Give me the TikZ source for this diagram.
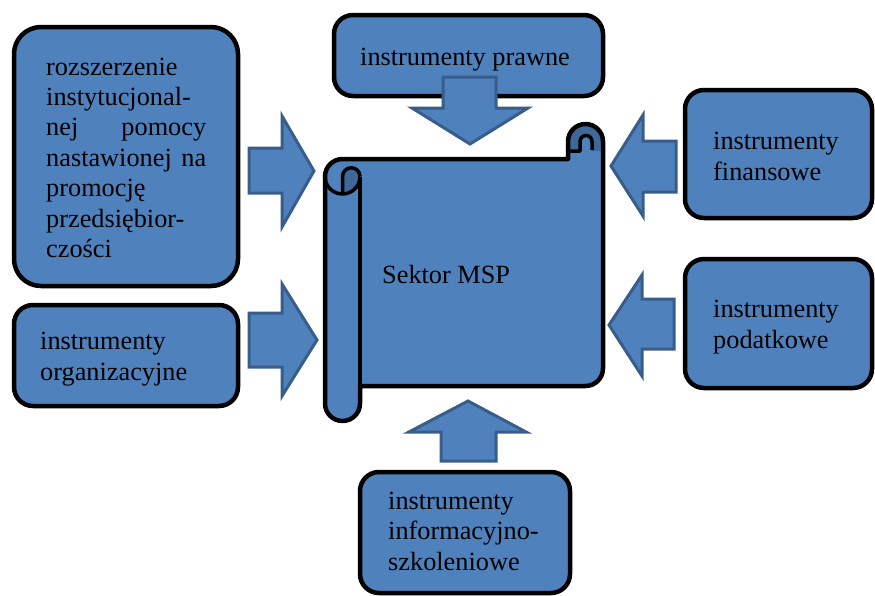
\documentclass[tikz,border=0pt]{standalone}
\usepackage{fontspec}
\setmainfont{Liberation Serif}
\definecolor{fillblue}{HTML}{4F81BD}
\definecolor{arrowblue}{HTML}{385D8A}
\definecolor{curlblue}{HTML}{3F6797}
\hyphenpenalty=10000
\begin{document}
\begin{tikzpicture}[x=1pt,y=-1pt,
  box/.style={draw=black, line width=4.5pt, fill=fillblue, rounded corners=19pt, inner sep=0pt},
  txt/.style={inner sep=0pt, anchor=base west, align=left, font=\fontsize{26.3}{30.4}\selectfont},
  blockarrow/.style={fill=fillblue, draw=arrowblue, line width=3pt, line join=miter},
  scrollline/.style={draw=black, line width=4.5pt, line join=round},
  curlline/.style={draw=black, line width=3.5pt, line join=round}]
\useasboundingbox (0,0) rectangle (875,595);

% boxes
\node[box, rounded corners=27pt, minimum width=224pt, minimum height=259pt] (inst) at (126,156.5) {};
\node[box, minimum width=224pt, minimum height=101pt] (org) at (126,355.5) {};
\node[box, minimum width=269pt, minimum height=81pt] (legal) at (468.5,55.5) {};
\node[box, minimum width=187pt, minimum height=128pt] (fin) at (778.5,154) {};
\node[box, minimum width=187pt, minimum height=129pt] (tax) at (778.5,323.5) {};
\node[box, minimum width=210pt, minimum height=121pt] (info) at (465,532.5) {};

% texts (multi-line align=left nodes: base = last line)
\node[txt, text width=160pt, align=justify] (t-inst) at (46,75) {rozszerzenie\linebreak instytucjonal-\linebreak nej pomocy\linebreak nastawionej na\linebreak promocję\linebreak przedsiębior-\linebreak czości};
\node[txt] (t-org) at (40,380) {instrumenty\\organizacyjne};
\node[txt] (t-legal) at (360,65) {instrumenty prawne};
\node[txt] (t-fin) at (713,180) {instrumenty\\finansowe};
\node[txt] (t-tax) at (713,348) {instrumenty\\podatkowe};
\node[txt] (t-info) at (388,570) {instrumenty\\informacyjno-\\szkoleniowe};

% block arrows
\draw[blockarrow] (443,77) -- (496,77) -- (496,108) -- (528,108) -- (470,144) -- (412,108) -- (443,108) -- cycle;
\draw[blockarrow] (441,461) -- (496,461) -- (496,432) -- (526,432) -- (468,401) -- (409,432) -- (441,432) -- cycle;
\draw[blockarrow] (249,148) -- (282,148) -- (282,116) -- (314,171) -- (282,227) -- (282,193) -- (249,193) -- cycle;
\draw[blockarrow] (249,313) -- (282,313) -- (282,284) -- (317,340) -- (282,396) -- (282,367) -- (249,367) -- cycle;
\draw[blockarrow] (676,141) -- (643,141) -- (643,115) -- (611,166) -- (643,216) -- (643,192) -- (676,192) -- cycle;
\draw[blockarrow] (674,299) -- (642,299) -- (642,275) -- (609,325) -- (642,376) -- (642,349) -- (674,349) -- cycle;

% scroll
\path[fill=fillblue] (325,176.5) arc[start angle=180, end angle=270, radius=17.5]
  -- (568,159) -- (568,141.5) arc[start angle=180, end angle=360, radius=17.5]
  -- (603,368.5) arc[start angle=0, end angle=90, radius=17.5]
  -- (360,386) -- (360,403.5) arc[start angle=0, end angle=180, radius=17.5] -- cycle;
% curls (darker)
\path[fill=curlblue] (342.5,176.5) arc[start angle=180, end angle=360, radius=8.75]
  arc[start angle=0, end angle=90, radius=17.5] -- cycle;
\path[fill=curlblue] (568,151) -- (568,141.5) arc[start angle=180, end angle=360, radius=17.5] -- (603,151) -- cycle;
\path[fill=fillblue] (580,151) -- (580,141.5) arc[start angle=180, end angle=360, radius=6] -- (592,151) -- cycle;
% outline
\draw[scrollline] (325,176.5) arc[start angle=180, end angle=270, radius=17.5]
  -- (568,159) -- (568,141.5) arc[start angle=180, end angle=360, radius=17.5]
  -- (603,368.5) arc[start angle=0, end angle=90, radius=17.5]
  -- (360,386) -- (360,403.5) arc[start angle=0, end angle=180, radius=17.5] -- cycle;
\draw[scrollline] (360,176.5) -- (360,386);
\draw[curlline] (325,176.5) arc[start angle=180, end angle=0, radius=17.5];
\draw[curlline] (342.5,194) -- (342.5,176.5) arc[start angle=180, end angle=360, radius=8.75];
\draw[curlline] (568,151) -- (580,151) -- (580,141.5) arc[start angle=180, end angle=360, radius=6] -- (592,150);

\node[txt] (msp) at (382,283) {Sektor MSP};
\end{tikzpicture}
\end{document}
